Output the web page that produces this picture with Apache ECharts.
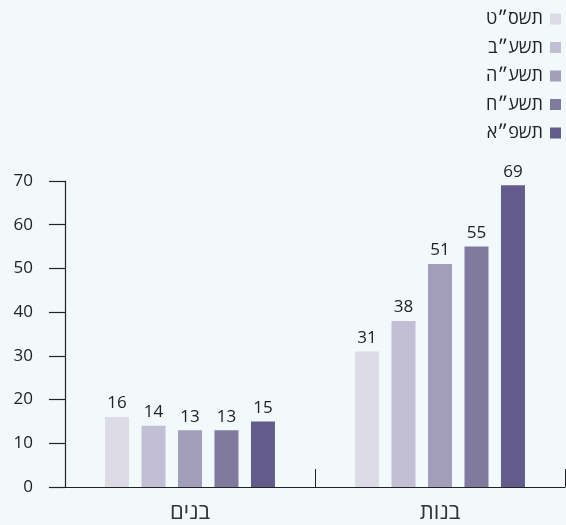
<!DOCTYPE html>
<html lang="he">
<head>
<meta charset="utf-8">
<script src="https://cdn.jsdelivr.net/npm/echarts@6/dist/echarts.min.js"></script>
<style>
  html, body { margin: 0; padding: 0; background: #f2f9fb; }
  #chart { width: 566px; height: 525px; }
</style>
</head>
<body>
<div id="chart"></div>
<script>
// categories and series
const categories = ['בנים', 'בנות']
const seriesNames = ['תשס״ט', 'תשע״ב', 'תשע״ה', 'תשע״ח', 'תשפ״א']
const seriesColors = ['#dddbe6', '#c2bfd5', '#a29db9', '#817a9f', '#635b8a']
const values = [
  [16, 31],
  [14, 38],
  [13, 51],
  [13, 55],
  [15, 69],
]

const myChart = echarts.init(document.getElementById('chart'))

const font = '"Open Sans", Lato, sans-serif'

const options = {
  backgroundColor: '#f2f9fb',
  textStyle: { fontFamily: font },
  legend: {
    orient: 'vertical',
    right: 0,
    top: 5,
    align: 'right',
    itemWidth: 11,
    itemHeight: 11,
    itemGap: 10.5,
    icon: 'rect',
    textStyle: { fontSize: 18, color: '#222', padding: [0, 2, 0, 0] },
    data: seriesNames,
  },
  grid: {
    left: 65,
    right: 1,
    top: 181,
    bottom: 38,
  },
  xAxis: {
    type: 'category',
    data: categories,
    axisLine: { lineStyle: { color: '#222', width: 1.2 } },
    axisTick: { show: true, inside: true, length: 18, lineStyle: { color: '#222' } },
    axisLabel: { fontSize: 22, color: '#333', margin: 15 },
  },
  yAxis: {
    type: 'value',
    min: 0,
    max: 70,
    interval: 10,
    splitLine: { show: false },
    axisLine: { show: true, lineStyle: { color: '#222', width: 1.2 } },
    axisTick: { show: true, length: 16, lineStyle: { color: '#222', width: 1.2 } },
    axisLabel: { fontSize: 17, color: '#222', margin: 32 },
  },
  series: seriesNames.map((name, i) => ({
    type: 'bar',
    name: name,
    data: values[i],
    barWidth: 24,
    barGap: '52%',
    itemStyle: { color: seriesColors[i] },
    label: {
      show: true,
      position: 'top',
      distance: 5,
      fontSize: 17,
      color: '#222',
    },
  })),
}

myChart.setOption(options)
</script>
</body>
</html>
